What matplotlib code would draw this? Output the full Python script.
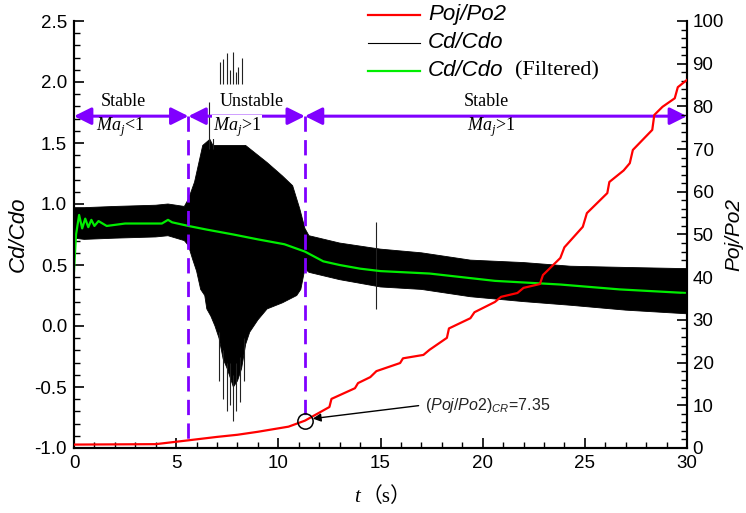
import numpy as np
import matplotlib
matplotlib.use("Agg")
import matplotlib.pyplot as plt
from matplotlib.lines import Line2D

plt.rcParams['mathtext.fontset'] = 'custom'
plt.rcParams['mathtext.rm'] = 'Liberation Sans'
plt.rcParams['mathtext.it'] = 'Liberation Sans:italic'
plt.rcParams['mathtext.sf'] = 'Liberation Serif:italic'

# Cd/Cdo raw signal envelope
t_up = [0, 0.5, 2, 4, 4.6, 5.4, 5.6, 5.9, 6.3, 6.65, 6.8, 8.4, 9.0, 9.45, 10.2, 10.7, 11.05, 11.3,
        11.5, 13, 15, 17, 19.4, 22, 24.3, 27, 30]
cd_up = [0.97, 0.97, 0.98, 0.99, 1.0, 0.98, 1.04, 1.18, 1.48, 1.53, 1.48, 1.48, 1.40, 1.34, 1.23, 1.15, 0.96, 0.80,
         0.74, 0.68, 0.63, 0.60, 0.54, 0.52, 0.49, 0.48, 0.47]
t_lo = [0, 0.5, 2, 4, 4.6, 5.4, 5.6, 5.8, 6.0, 6.2, 6.4, 6.5, 6.7, 6.9, 7.1, 7.3, 7.5, 7.7, 7.8, 8.0, 8.2,
        8.4, 8.6, 9.0, 9.45, 10.2, 10.9, 11.1, 11.3,
        11.5, 13, 15, 17, 19.4, 22, 24.3, 27, 30]
cd_lo = [0.72, 0.71, 0.72, 0.73, 0.74, 0.70, 0.66, 0.55, 0.45, 0.30, 0.25, 0.14, 0.08, 0.0, -0.10, -0.27, -0.35,
         -0.45, -0.50, -0.45, -0.35, -0.15, -0.05, 0.05, 0.14, 0.19, 0.25, 0.30, 0.47,
         0.44, 0.38, 0.32, 0.30, 0.24, 0.20, 0.17, 0.13, 0.10]

# isolated spikes of the raw signal
spike_t = [6.6, 6.8, 7.15, 7.3, 7.5, 7.65, 7.8, 7.95, 8.05, 8.2,
           7.1, 7.3, 7.5, 7.65, 7.8, 7.95, 8.1, 8.3, 14.8]
spike_lo = [1.45, 1.45, 1.98, 1.98, 1.98, 1.98, 1.98, 1.98, 1.98, 1.98,
            -0.45, -0.60, -0.70, -0.65, -0.78, -0.70, -0.62, -0.45, 0.14]
spike_hi = [1.84, 1.62, 2.16, 2.19, 2.24, 2.10, 2.25, 2.08, 2.12, 2.20,
            -0.05, -0.2, -0.3, -0.3, -0.4, -0.3, -0.25, -0.1, 0.85]

# filtered Cd/Cdo
t_g = [0, 0.1, 0.25, 0.4, 0.55, 0.7, 0.85, 1.0, 1.2, 1.6, 2.5, 3.5, 4.3, 4.6, 4.8, 5.6, 6.5, 7.8, 9.0, 10.3,
       11.3, 12.2, 13, 14, 15, 17.4, 20.6, 23.8, 26.7, 30]
cd_filt = [0.45, 0.75, 0.91, 0.80, 0.88, 0.81, 0.87, 0.82, 0.86, 0.82, 0.84, 0.84, 0.84, 0.87, 0.85, 0.82, 0.79, 0.75,
           0.71, 0.67, 0.61, 0.53, 0.50, 0.47, 0.45, 0.43, 0.37, 0.34, 0.30, 0.27]

# Poj/Po2
t_p = [0, 4, 5.6, 7, 8, 9, 10, 10.5, 11.3, 12.5, 12.6, 13.75, 13.9, 14.5, 14.8, 15.96, 16.1, 17.1, 17.4,
       18.25, 18.35, 19.4, 19.6, 20.6, 20.9, 21.7, 22.0, 22.8, 22.95, 23.8, 24.0, 24.9, 25.1, 26.1, 26.2,
       26.9, 27.2, 27.35, 28.3, 28.4, 28.8, 29.4, 29.55, 30]
p_ratio = [0.8, 0.9, 1.8, 2.6, 3.1, 3.8, 4.6, 5.0, 6.4, 9.6, 11.5, 14.0, 15.2, 16.6, 18.0, 19.9, 21.0, 21.8, 23.0,
           25.8, 28.0, 30.4, 31.8, 34.2, 35.4, 36.3, 37.5, 38.4, 40.5, 44.5, 47.0, 51.8, 55.0, 59.7, 62.3,
           65.0, 66.7, 69.8, 74.5, 78.0, 79.9, 81.9, 84.5, 86.2]

t_crit = [5.6, 11.3]
p_crit = 6.4

purple = '#8000ff'
sans = 'Liberation Sans'
serif = 'Liberation Serif'

fig = plt.figure(figsize=(7.46, 5.13), dpi=100)
ax = fig.add_axes([74/746, 65/513, 613/746, 427/513])
ax2 = ax.twinx()

# raw signal
ax.fill(t_up + t_lo[::-1], cd_up + cd_lo[::-1], color='black', lw=0.6)
ax.vlines(spike_t, spike_lo, spike_hi, color='#222222', lw=0.8)
ax.plot(t_g, cd_filt, color='#00ee00', lw=1.6)

# red pressure ratio
ax2.plot(t_p, p_ratio, color='red', lw=1.6, zorder=3)
ax2.plot([t_crit[1]], [p_crit], 'o', mfc='none', mec='black', ms=11, mew=1.1, zorder=4)
ax2.annotate('', xy=(11.55, p_crit + 0.4), xytext=(17.0, 10.0),
             arrowprops=dict(arrowstyle='-|>', color='black', lw=1, mutation_scale=12))
ax2.text(17.2, 10.0, r'$(Poj/Po$2$)_{CR}$=7.35', fontsize=11.5, family=sans, va='center', ha='left',
         color='#222222')

# regime arrows
y_arr = 1.72
bounds = [0, t_crit[0], t_crit[1], 30]
for a, b in zip(bounds[:-1], bounds[1:]):
    ax.annotate('', xy=(b, y_arr), xytext=(a, y_arr),
                arrowprops=dict(arrowstyle='<|-|>', color=purple, lw=2.2, mutation_scale=26,
                                shrinkA=0, shrinkB=0))
ax.plot([t_crit[0], t_crit[0]], [y_arr, -0.955], color=purple, lw=2, ls=(0, (5.5, 3)))
ax.plot([t_crit[1], t_crit[1]], [y_arr, -0.78], color=purple, lw=2, ls=(0, (5.5, 3)))

ax.text(2.4, 1.84, 'Stable', family=serif, fontsize=13, ha='center', va='center')
ax.text(2.25, 1.63, r'$\mathsf{Ma}_{\mathsf{j}}$<1', family=serif, fontsize=13, ha='center', va='center')
ax.text(8.7, 1.84, 'Unstable', family=serif, fontsize=13, ha='center', va='center',
        bbox=dict(fc='white', ec='none', pad=0.5))
ax.text(8.0, 1.63, r'$\mathsf{Ma}_{\mathsf{j}}$>1', family=serif, fontsize=13, ha='center', va='center',
        bbox=dict(fc='white', ec='none', pad=0.5))
ax.text(20.2, 1.84, 'Stable', family=serif, fontsize=13, ha='center', va='center')
ax.text(20.4, 1.63, r'$\mathsf{Ma}_{\mathsf{j}}$>1', family=serif, fontsize=13, ha='center', va='center')

# axes
ax.set_xlim(0, 30)
ax.set_ylim(-1.0, 2.5)
ax2.set_ylim(0, 100)
ax.set_xticks(np.arange(0, 31, 5))
ax.set_xticks(np.arange(0, 31, 1), minor=True)
ax.set_yticks(np.arange(-1.0, 2.51, 0.5))
ax.set_yticks(np.arange(-1.0, 2.51, 0.1), minor=True)
ax.set_yticklabels(['%.1f' % v for v in np.arange(-1.0, 2.51, 0.5)])
ax2.set_yticks(np.arange(0, 101, 10))
ax2.set_yticks(np.arange(0, 101, 2), minor=True)

for a in (ax, ax2):
    a.spines['top'].set_visible(False)
    for s in a.spines.values():
        s.set_linewidth(1.5)
    a.tick_params(which='major', direction='in', length=7, width=1.2, labelsize=13.5, pad=5)
    a.tick_params(which='minor', direction='in', length=4, width=1.0)
    for lab in a.get_xticklabels() + a.get_yticklabels():
        lab.set_family(sans)
ax2.tick_params(axis='y', which='major', pad=4)

ax.set_ylabel('Cd/Cdo', family=sans, style='italic', fontsize=16, labelpad=4)
ax2.set_ylabel('Poj/Po2', family=sans, style='italic', fontsize=15, labelpad=0)

# x label: italic t plus full-width parentheses
yl = 1 - 497/513
fig.text(357/746, yl, 't', family=serif, style='italic', fontsize=15, ha='center', va='center')
fig.text(362/746, yl, '（s）', family=[serif, 'Noto Sans CJK SC'], fontsize=15, ha='left', va='center')

# legend drawn by hand
rows = [(15, 'red', 1.6, 'Poj/Po2'), (43, 'black', 0.8, 'Cd/Cdo'), (71, '#00ee00', 1.6, 'Cd/Cdo')]
for ypx, col, lw, lab in rows:
    yf = 1 - ypx / 513
    fig.add_artist(Line2D([368/746, 420/746], [yf, yf], color=col, lw=lw))
    fig.text(428/746, yf, lab, family=sans, style='italic', fontsize=16, va='center', ha='left')
fig.text(515/746, 1 - 71/513, '(Filtered)', family=serif, fontsize=16, va='center', ha='left')

fig.savefig('out.png', dpi=100)
